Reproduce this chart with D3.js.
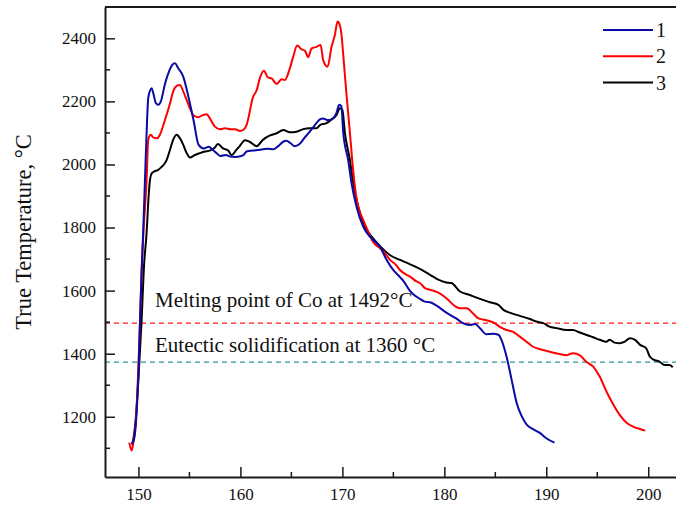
<!DOCTYPE html>
<html><head><meta charset="utf-8">
<script src="https://cdn.jsdelivr.net/npm/d3@7"></script>
<style>body{margin:0;background:#fff}svg{display:block}</style>
</head><body>
<script>
// ---- data ----
const xTicks = [150, 160, 170, 180, 190, 200];
const yTicks = [1200, 1400, 1600, 1800, 2000, 2200, 2400];
const seriesNames = ["1", "2", "3"];
const meltingLevel = 1497;     // drawn position of "Melting point of Co at 1492°C"
const eutecticLevel = 1373;    // drawn position of "Eutectic solidification at 1360 °C"
const meltingLabel = "Melting point of Co at 1492°C";
const eutecticLabel = "Eutectic solidification at 1360 °C";

const series1 = [[149.3,1115],[149.49,1121],[149.7,1160],[149.85,1230],[150.0,1340],[150.15,1499],[150.3,1650],[150.47,1792],[150.64,1951],[150.8,2100],[150.96,2211],[151.15,2235],[151.29,2242],[151.5,2220],[151.7,2195],[151.94,2189],[152.2,2200],[152.6,2255],[153.0,2295],[153.3,2315],[153.58,2321],[153.9,2305],[154.4,2278],[154.9,2215],[155.4,2141],[155.9,2062],[156.4,2051],[156.9,2056],[157.3,2046],[157.7,2035],[158.0,2027],[158.6,2030],[159.0,2025],[159.5,2024],[160.0,2026],[160.3,2030],[160.6,2041],[161.2,2044],[161.7,2046],[162.2,2048],[162.7,2050],[163.2,2048],[163.7,2058],[164.2,2072],[164.5,2075],[164.9,2068],[165.3,2058],[165.8,2065],[166.3,2085],[166.8,2104],[167.3,2125],[167.8,2143],[168.1,2146],[168.5,2141],[168.8,2141],[169.2,2150],[169.4,2162],[169.7,2189],[169.9,2185],[170.09,2099],[170.57,2014],[170.9,1940],[171.39,1866],[172.04,1803],[172.7,1771],[173.0,1761],[173.67,1740],[174.33,1698],[175.0,1665],[175.5,1648],[176.0,1630],[176.5,1605],[176.9,1590],[177.6,1574],[178.1,1565],[178.6,1563],[179.2,1553],[180.2,1530],[181.2,1511],[181.8,1497],[182.5,1491],[183.0,1494],[183.5,1481],[184.1,1462],[184.8,1463],[185.3,1460],[185.6,1444],[186.1,1391],[186.6,1317],[187.1,1243],[187.6,1201],[188.1,1174],[188.7,1161],[189.4,1148],[190.0,1132],[190.8,1118]];

const series2 = [[149.1,1118],[149.33,1093],[149.5,1118],[149.7,1170],[149.85,1250],[150.0,1360],[150.15,1500],[150.3,1650],[150.5,1790],[150.8,1951],[150.96,2078],[151.2,2094],[151.45,2086],[151.84,2083],[152.1,2094],[152.6,2141],[153.1,2194],[153.4,2231],[153.75,2249],[154.07,2252],[154.4,2231],[154.73,2204],[155.05,2178],[155.37,2157],[155.86,2150],[156.35,2157],[156.7,2159],[157.0,2146],[157.5,2120],[158.0,2112],[158.5,2115],[159.0,2112],[159.5,2112],[159.95,2106],[160.3,2110],[160.6,2125],[161.25,2215],[161.6,2236],[161.9,2273],[162.3,2297],[162.7,2276],[163.06,2273],[163.55,2255],[164.04,2270],[164.36,2268],[164.85,2305],[165.18,2342],[165.57,2377],[166.0,2365],[166.32,2361],[166.65,2340],[166.98,2368],[167.47,2373],[167.86,2379],[168.12,2331],[168.55,2310],[168.94,2373],[169.26,2410],[169.53,2453],[169.75,2442],[169.9,2416],[170.08,2350],[170.41,2220],[170.74,2100],[171.06,1980],[171.4,1890],[172.04,1824],[172.5,1790],[173.0,1755],[173.67,1735],[174.3,1713],[174.6,1700],[175.3,1680],[175.6,1667],[176.3,1650],[176.6,1645],[177.27,1629],[177.6,1624],[178.1,1608],[178.9,1600],[179.5,1592],[180.2,1576],[181.0,1552],[181.5,1544],[182.2,1544],[182.8,1528],[183.3,1513],[184.0,1507],[184.8,1499],[185.4,1486],[186.1,1475],[186.7,1470],[187.4,1454],[188.06,1438],[188.7,1422],[189.4,1414],[190.0,1409],[190.7,1403],[191.3,1399],[192.0,1395],[192.3,1399],[192.6,1401],[193.3,1395],[193.9,1375],[194.6,1359],[195.25,1327],[195.9,1280],[196.5,1243],[197.2,1206],[197.9,1180],[198.5,1169],[199.2,1161],[199.7,1156]];

const series3 = [[149.4,1110],[149.7,1180],[150.0,1320],[150.3,1500],[150.55,1680],[150.8,1783],[151.0,1900],[151.13,1951],[151.3,1972],[151.5,1977],[151.94,1983],[152.2,1990],[152.5,2000],[152.76,2014],[153.09,2046],[153.4,2078],[153.75,2094],[154.07,2083],[154.4,2062],[154.73,2036],[155.05,2022],[155.54,2030],[156.03,2036],[156.5,2041],[157.0,2044],[157.5,2054],[157.8,2065],[158.3,2051],[158.8,2044],[159.14,2030],[159.6,2046],[159.95,2059],[160.44,2077],[160.9,2072],[161.6,2058],[162.2,2078],[162.9,2092],[163.55,2099],[164.2,2109],[164.85,2102],[165.5,2104],[166.16,2112],[166.8,2115],[167.47,2115],[167.8,2125],[168.45,2131],[168.94,2143],[169.43,2157],[169.75,2178],[170.0,2173],[170.25,2099],[170.74,2014],[171.07,1940],[171.56,1866],[172.21,1803],[172.87,1771],[173.67,1742],[174.66,1713],[175.6,1698],[176.6,1684],[177.6,1669],[178.6,1650],[179.4,1635],[180.2,1626],[180.7,1624],[181.5,1598],[182.5,1586],[183.5,1574],[184.46,1563],[185.3,1555],[185.8,1539],[186.4,1530],[187.4,1520],[188.4,1510],[189.0,1502],[189.7,1497],[190.3,1486],[191.0,1481],[192.0,1475],[192.6,1475],[193.3,1467],[193.9,1460],[194.6,1452],[195.25,1444],[195.9,1438],[196.2,1444],[196.7,1435],[197.2,1433],[197.7,1438],[198.2,1449],[198.7,1444],[199.2,1428],[199.8,1417],[200.15,1391],[200.6,1380],[201.1,1375],[201.6,1364],[202.1,1364],[202.4,1357]];

// ---- layout ----
const W = 676, H = 509;
const mLeft = 105, mTop = 7, mBottom = 477, mRight = 676;
const font = "Liberation Serif, serif";

const svg = d3.select("body").append("svg").attr("width", W).attr("height", H);

const x = d3.scaleLinear().domain([146.72, 202.72]).range([mLeft, mRight]);
const y = d3.scaleLinear().domain([1009, 2499.3]).range([mBottom, mTop]);

svg.append("defs").append("clipPath").attr("id","clip")
  .append("rect").attr("x", mLeft).attr("y", mTop).attr("width", mRight-mLeft).attr("height", mBottom-mTop);

const plot = svg.append("g").attr("clip-path","url(#clip)");

// reference lines
plot.append("line").attr("x1", mLeft).attr("x2", mRight)
  .attr("y1", y(meltingLevel)).attr("y2", y(meltingLevel))
  .attr("stroke", "#ff1a1a").attr("stroke-width", 1.3).attr("stroke-dasharray", "5,4");
plot.append("line").attr("x1", mLeft).attr("x2", mRight)
  .attr("y1", y(eutecticLevel)).attr("y2", y(eutecticLevel))
  .attr("stroke", "#2f9696").attr("stroke-width", 1.3).attr("stroke-dasharray", "5,4");

const line = d3.line().x(d => x(d[0])).y(d => y(d[1])).curve(d3.curveMonotoneX);
const colors = ["#0a0aa6", "#ff0000", "#000000"];
const allSeries = [series1, series2, series3];
[2, 1, 0].forEach(i => {
  plot.append("path").datum(allSeries[i]).attr("d", line)
    .attr("fill", "none").attr("stroke", colors[i]).attr("stroke-width", 2)
    .attr("stroke-linejoin", "round");
});

// annotations
svg.append("text").attr("x", 155).attr("y", 306.5).text(meltingLabel)
  .style("font-family", font).style("font-size", "21px").attr("fill", "#111");
svg.append("text").attr("x", 155).attr("y", 351.5).text(eutecticLabel)
  .style("font-family", font).style("font-size", "21px").attr("fill", "#111");

// axes
const axisColor = "#1a1a1a";
const xAxis = d3.axisBottom(x).tickValues(xTicks).tickSizeInner(-10).tickSizeOuter(0).tickPadding(11).tickFormat(d3.format("d"));
const gx = svg.append("g").attr("transform", `translate(0,${mBottom})`).call(xAxis);
const xMinor = d3.range(155, 202, 10);
svg.append("g").selectAll("line").data(xMinor).join("line")
  .attr("x1", d => x(d)).attr("x2", d => x(d)).attr("y1", mBottom).attr("y2", mBottom - 5)
  .attr("stroke", axisColor).attr("stroke-width", 1.5);

const yAxis = d3.axisLeft(y).tickValues(yTicks).tickSizeInner(-10).tickSizeOuter(0).tickPadding(9).tickFormat(d3.format("d"));
const gy = svg.append("g").attr("transform", `translate(${mLeft},0)`).call(yAxis);
const yMinor = d3.range(1100, 2500, 200);
svg.append("g").selectAll("line").data(yMinor).join("line")
  .attr("x1", mLeft).attr("x2", mLeft + 5).attr("y1", d => y(d)).attr("y2", d => y(d))
  .attr("stroke", axisColor).attr("stroke-width", 1.5);

[gx, gy].forEach(g => {
  g.attr("font-family", null).attr("font-size", null);
  g.select(".domain").attr("stroke", axisColor).attr("stroke-width", 2);
  g.selectAll(".tick line").attr("stroke", axisColor).attr("stroke-width", 1.5);
  g.selectAll(".tick text").style("font-family", font).style("font-size", "17px").attr("fill", "#111");
});
gy.selectAll(".tick text").attr("x", -9);
gx.selectAll(".tick text").attr("y", 11);

// top border
svg.append("line").attr("x1", mLeft).attr("x2", mRight).attr("y1", mTop).attr("y2", mTop)
  .attr("stroke", axisColor).attr("stroke-width", 2);

// y label
svg.append("text").attr("transform", "translate(31,232) rotate(-90)")
  .attr("text-anchor", "middle").style("font-family", font).style("font-size", "22.5px")
  .attr("fill", "#111").text("True Temperature, °C");

// legend
const legend = svg.append("g");
seriesNames.forEach((name, i) => {
  const ly = 30 + i * 26.3;
  legend.append("line").attr("x1", 603).attr("x2", 653).attr("y1", ly).attr("y2", ly)
    .attr("stroke", colors[i]).attr("stroke-width", 2);
  legend.append("text").attr("x", 656).attr("y", ly + 7).text(name)
    .style("font-family", font).style("font-size", "20px").attr("fill", "#111");
});
</script>
</body></html>
